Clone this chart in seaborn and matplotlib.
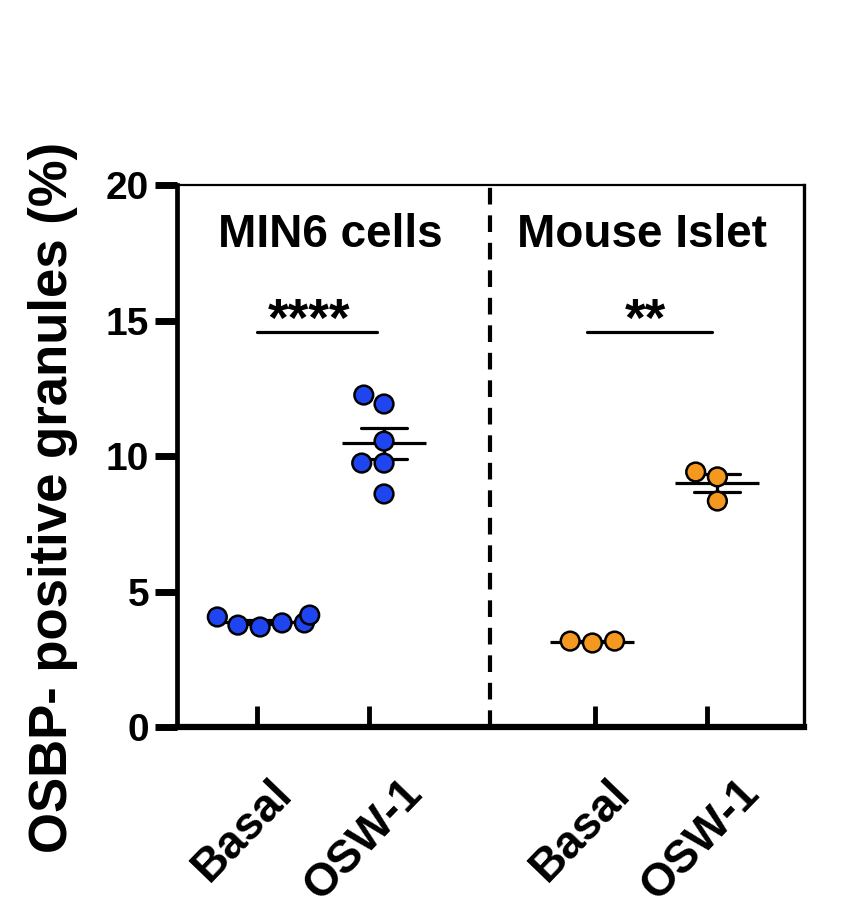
import numpy as np
import pandas as pd
import matplotlib
matplotlib.use("Agg")
import matplotlib.pyplot as plt
import matplotlib.transforms as mtransforms
import seaborn as sns

# values (% OSBP-positive granules)
min6_basal = [3.84, 4.13, 3.76, 4.06, 3.69, 3.84]
min6_osw = [11.92, 12.25, 10.55, 9.74, 9.74, 8.60]
islet_basal = [3.10, 3.17, 3.17]
islet_osw = [9.41, 9.23, 8.34]

conditions = ["Basal", "OSW-1", "Basal", "OSW-1"]
models = ["MIN6 cells", "MIN6 cells", "Mouse Islet", "Mouse Islet"]
stars = ["****", "**"]
y_ticks = [0, 5, 10, 15, 20]

BLUE = "#1f45f0"
ORANGE = "#f5981f"

tick_pos = [0, 1, 3, 4]
shift = [0.03, 0.13, -0.02, 0.09]   # graphpad draws the OSW columns a bit to the right

rows = []
for i, vals in enumerate([min6_basal, min6_osw, islet_basal, islet_osw]):
    for v in vals:
        rows.append({"pos": tick_pos[i] + shift[i], "value": v,
                     "model": models[i], "cond": conditions[i]})
df = pd.DataFrame(rows)

sns.set_style("ticks")
plt.rcParams["font.family"] = ["Liberation Sans", "DejaVu Sans"]
plt.rcParams["font.weight"] = "bold"
for k in ["text.color", "axes.labelcolor", "xtick.color", "ytick.color", "axes.edgecolor"]:
    plt.rcParams[k] = "black"

fig = plt.figure(figsize=(8.42, 9.22), dpi=100)
ax = fig.add_axes([0.210, 0.2115, 0.745, 0.5878])

sns.pointplot(data=df, x="pos", y="value", native_scale=True, errorbar="se",
              capsize=0.37, linestyle="none", marker="_", markersize=60,
              markeredgewidth=2.3, color="black", err_kws={"linewidth": 2.3},
              ax=ax)
sns.swarmplot(data=df, x="pos", y="value", hue="model", palette=[BLUE, ORANGE],
              native_scale=True, size=13.5, edgecolor="black", linewidth=1.8,
              legend=False, ax=ax, zorder=5)

ax.set_xlim(-0.71, 4.86)
ax.set_ylim(0, 20)
ax.tick_params(axis="y", direction="out", length=16, width=5, pad=4)
ax.tick_params(axis="x", direction="in", length=15, width=3.5, pad=49)
ax.set_yticks(y_ticks)
ax.set_yticklabels([str(t) for t in y_ticks], fontsize=28, fontweight="bold")
ax.set_xticks(tick_pos)
ax.set_xticklabels(conditions, fontsize=33, fontweight="bold", rotation=46,
                   ha="right", va="baseline", rotation_mode="anchor")

for side, lw in [("left", 3.4), ("bottom", 4.5), ("top", 1.6), ("right", 2.4)]:
    ax.spines[side].set_linewidth(lw)

ax.set_xlabel("")
ax.set_ylabel("OSBP- positive granules (%)", fontsize=38, fontweight="bold")
ax.yaxis.set_label_coords(-0.158, 0.424)

# divider between the two models
ax.axvline(2.07, color="black", lw=3, ls=(0, (4, 2.6)))

ax.text(0.655, 18.15, models[0], ha="center", va="center", fontsize=33, fontweight="bold")
ax.text(3.42, 18.15, models[2], ha="center", va="center", fontsize=33, fontweight="bold")

# significance brackets
ax.plot([0, 1.07], [14.58, 14.58], color="black", lw=2.3)
ax.plot([2.93, 4.04], [14.58, 14.58], color="black", lw=2.3)
ax.text(0.46, 14.02, stars[0], ha="center", va="bottom", fontsize=38, fontweight="bold")
ax.text(3.45, 14.02, stars[1], ha="center", va="bottom", fontsize=38, fontweight="bold")

# nudge the rotated category labels to the right, like the original layout
fig.canvas.draw()
label_dx = [0.37, 0.54, 0.37, 0.54]
for lbl, dx in zip(ax.get_xticklabels(), label_dx):
    lbl.set_transform(lbl.get_transform() +
                      mtransforms.ScaledTranslation(dx, 0, fig.dpi_scale_trans))

fig.savefig("out.png", dpi=100)
